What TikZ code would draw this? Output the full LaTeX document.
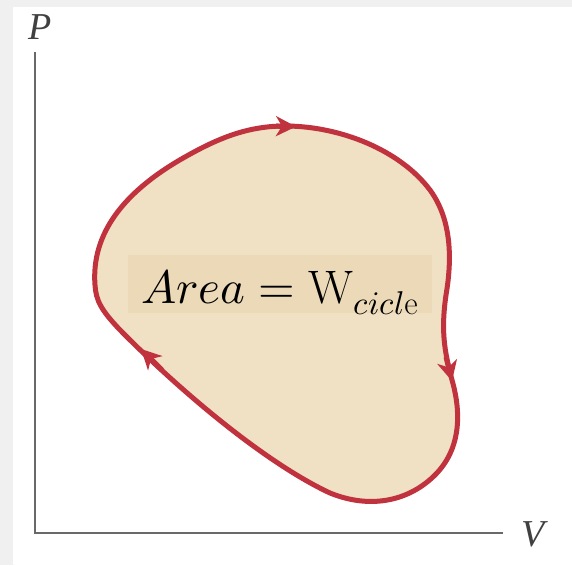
\documentclass[tikz,border=0pt]{standalone}
\usepackage{unicode-math}
\newfontfamily\labelserif{Liberation Serif}
\usetikzlibrary{arrows.meta}
\definecolor{frame}{RGB}{240,240,240}
\definecolor{cyclefill}{RGB}{240,224,196}
\definecolor{boxfill}{RGB}{235,217,184}
\definecolor{cyclered}{RGB}{192,50,62}
\definecolor{axisgray}{RGB}{105,105,105}
\tikzset{
  axisline/.style={draw=axisgray, line width=2.2pt},
  axislabel/.style={inner sep=0pt, font=\labelserif\fontsize{38}{40}\selectfont\itshape, text=black!75},
  cycleline/.style={draw=cyclered, line width=5pt, line join=round},
  cyclearrow/.style={draw=cyclered, line width=5pt, -{Stealth[length=20pt, width=20pt, inset=6pt]}},
}
\begin{document}
\begin{tikzpicture}[x=1pt, y=-1pt]
  \useasboundingbox (0,0) rectangle (572,565);
  \fill[frame] (0,0) rectangle (572,565);
  \fill[white] (13,7) rectangle (572,565);
  % axes
  \coordinate (top) at (35,52);
  \coordinate (origin) at (35,533);
  \coordinate (right) at (503,533);
  \draw[axisline] (top) -- (origin) -- (right);
  \node[axislabel] (plabel) at (40,27) {P};
  \node[axislabel] (vlabel) at (533,534) {V};
  % cycle
  \path[cycleline, fill=cyclefill]
    (95,285) .. controls (91,232) and (126,192) .. (178,161)
    .. controls (214,140) and (245,126) .. (285,126)
    .. controls (340,126) and (400,150) .. (430,190)
    .. controls (452,220) and (452,260) .. (446,295)
    .. controls (441,330) and (444,350) .. (452,380)
    .. controls (462,415) and (460,450) .. (435,475)
    .. controls (410,500) and (372,510) .. (330,493)
    .. controls (270,465) and (190,400) .. (125,335)
    .. controls (100,310) and (96,300) .. (95,285) -- cycle;
  % arrowheads
  \coordinate (a1s) at (276,126.2); \coordinate (a1e) at (296,126.6);
  \coordinate (a2s) at (446,357); \coordinate (a2e) at (452,381);
  \coordinate (a3s) at (162,370); \coordinate (a3e) at (141,349);
  \draw[cyclearrow] (a1s) -- (a1e);
  \draw[cyclearrow] (a2s) -- (a2e);
  \draw[cyclearrow] (a3s) -- (a3e);
  % label
  \fill[boxfill] (128,255) rectangle (432,313);
  \node[inner sep=0pt, anchor=base] (area) at (280,303)
    {\fontsize{47}{50}\selectfont $Area=\mathrm{W}_{cicl\mathrm{e}}$};
\end{tikzpicture}
\end{document}
